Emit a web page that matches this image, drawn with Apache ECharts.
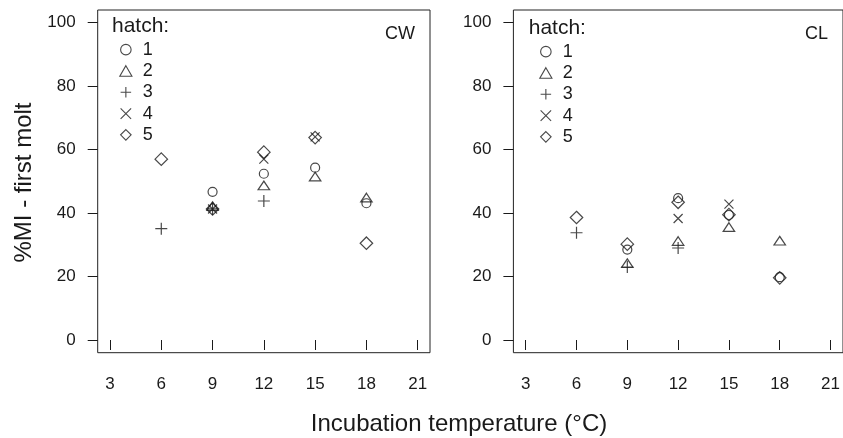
<!DOCTYPE html>
<html>
<head>
<meta charset="utf-8">
<script src="https://cdn.jsdelivr.net/npm/echarts@6/dist/echarts.min.js"></script>
<style>
html,body{margin:0;padding:0;background:#fff;}
#chart{width:843px;height:438px;}
</style>
</head>
<body>
<div id="chart"></div>
<script>
// ---- data ----
var temps = [6, 9, 12, 15, 18];
var hatchNames = ['1', '2', '3', '4', '5'];
// CW panel
var cw1 = [null, 46.7, 52.4, 54.3, 43.1];
var cw2 = [null, 42.2, 48.7, 51.5, 44.9];
var cw3 = [35.1, 41.3, 43.8, null, null];
var cw4 = [null, 41.3, 57.0, 64.0, null];
var cw5 = [57.0, 41.3, 59.2, 63.8, 30.5];
// CL panel
var cl1 = [null, 28.5, 44.7, 39.4, 19.8];
var cl2 = [null, 24.2, 31.2, 35.6, 31.3];
var cl3 = [33.8, 23.0, 29.0, null, null];
var cl4 = [null, null, 38.3, 42.8, null];
var cl5 = [38.6, 30.2, 43.4, 39.5, 19.6];
var xTicks = [3, 6, 9, 12, 15, 18, 21];
var yTicks = [0, 20, 40, 60, 80, 100];

var ink = '#1a1a1a';
var font = 'Liberation Sans, Arial, sans-serif';
var symbols = [
  'circle',
  'path://M5,0L10,8.66L0,8.66Z',
  'path://M0,5L10,5M5,0L5,10',
  'path://M0,0L10,10M0,10L10,0',
  'path://M5,0L10,5L5,10L0,5Z'
];
var sizes = [9, [11.5, 10], 12, 9, 12.5];

function pairs(vals) {
  var out = [];
  for (var i = 0; i < temps.length; i++) {
    if (vals[i] !== null) out.push([temps[i], vals[i]]);
  }
  return out;
}

var panels = [[cw1, cw2, cw3, cw4, cw5], [cl1, cl2, cl3, cl4, cl5]];
var series = [];
panels.forEach(function (p, pi) {
  p.forEach(function (vals, hi) {
    series.push({
      type: 'scatter',
      name: hatchNames[hi],
      xAxisIndex: pi,
      yAxisIndex: pi,
      symbol: symbols[hi],
      symbolSize: sizes[hi],
      symbolKeepAspect: true,
      itemStyle: { color: 'none', borderColor: ink, borderWidth: 1.2 },
      emphasis: { disabled: true },
      data: pairs(vals)
    });
  });
});

function xAxisDef(gi) {
  return {
    type: 'value', gridIndex: gi, min: xTicks[0], max: xTicks[xTicks.length - 1], interval: 3,
    offset: 12.7,
    axisLine: { show: false },
    axisTick: { show: true, length: 10, lineStyle: { color: ink, width: 1 } },
    axisLabel: { fontSize: 17, color: ink, margin: 23, fontFamily: font },
    splitLine: { show: false }
  };
}
function yAxisDef(gi) {
  return {
    type: 'value', gridIndex: gi, min: yTicks[0], max: yTicks[yTicks.length - 1], interval: 20,
    offset: 12.3,
    axisLine: { show: false },
    axisTick: { show: true, length: 10, lineStyle: { color: ink, width: 1 } },
    axisLabel: { fontSize: 17, color: ink, margin: 22, fontFamily: font },
    splitLine: { show: false }
  };
}
function hiddenAxis(type, gi) {
  return { type: 'value', gridIndex: gi, show: false, min: 0, max: 1 };
}

function legendDef(left, top) {
  return {
    left: left, top: top, orient: 'vertical',
    data: hatchNames,
    selectedMode: false,
    itemWidth: 24, itemHeight: 10.5, itemGap: 0,
    itemStyle: { color: 'none', borderColor: ink, borderWidth: 1.1 },
    textStyle: { fontSize: 18, color: ink, fontFamily: font, lineHeight: 21.3 },
    padding: 0
  };
}

var chart = echarts.init(document.getElementById('chart'), null, { renderer: 'canvas' });
chart.setOption({
  animation: false,
  backgroundColor: '#fff',
  grid: [
    { left: 110, top: 22.7, width: 307.7, height: 317.3 },
    { left: 525.7, top: 22.7, width: 307.6, height: 317.3 },
    { left: 97.7, top: 10, width: 332.3, height: 342.7, show: true, borderColor: '#222', borderWidth: 1, backgroundColor: 'transparent' },
    { left: 513.4, top: 10, width: 332.2, height: 342.7, show: true, borderColor: '#222', borderWidth: 1, backgroundColor: 'transparent' }
  ],
  xAxis: [xAxisDef(0), xAxisDef(1), hiddenAxis('x', 2), hiddenAxis('x', 3)],
  yAxis: [yAxisDef(0), yAxisDef(1), hiddenAxis('y', 2), hiddenAxis('y', 3)],
  legend: [legendDef(117.3, 39), legendDef(537.3, 41)],
  graphic: [
    { type: 'text', left: 112, top: 16, style: { text: 'hatch:', fontSize: 21, fill: ink, fontFamily: font } },
    { type: 'text', left: 528.7, top: 18, style: { text: 'hatch:', fontSize: 21, fill: ink, fontFamily: font } },
    { type: 'text', x: 415, y: 34.5, style: { text: 'CW', fontSize: 18, fill: ink, fontFamily: font, align: 'right', verticalAlign: 'middle' } },
    { type: 'text', x: 828, y: 34.5, style: { text: 'CL', fontSize: 18, fill: ink, fontFamily: font, align: 'right', verticalAlign: 'middle' } },
    { type: 'text', x: 459, y: 424, style: { text: 'Incubation temperature (°C)', fontSize: 24, fill: ink, fontFamily: font, align: 'center', verticalAlign: 'middle' } },
    { type: 'text', x: 24, y: 182.5, rotation: Math.PI / 2, style: { text: '%MI - first molt', fontSize: 24, fill: ink, fontFamily: font, align: 'center', verticalAlign: 'middle' } }
  ],
  series: series
});
</script>
</body>
</html>
